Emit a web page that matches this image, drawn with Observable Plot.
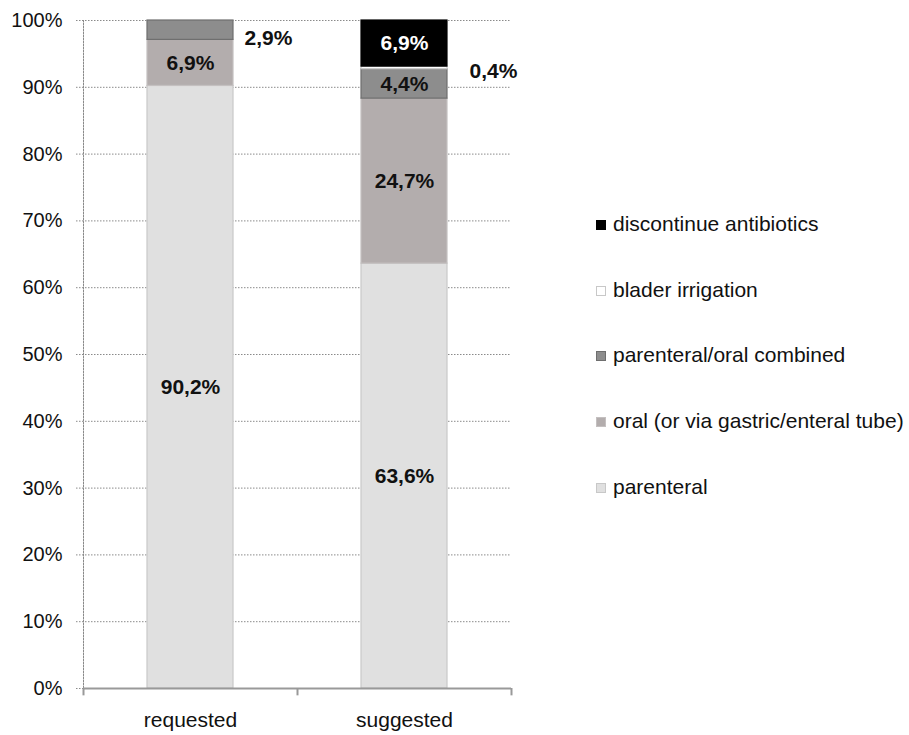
<!DOCTYPE html>
<html>
<head>
<meta charset="utf-8">
<script src="https://cdn.jsdelivr.net/npm/d3@7"></script>
<script src="https://cdn.jsdelivr.net/npm/@observablehq/plot@0.6"></script>
<style>
  body { margin: 0; background: #fff; }
  #wrap { position: relative; width: 909px; height: 735px; font-family: "Liberation Sans", Arial, sans-serif; }
  #legend { position: absolute; left: 596px; top: 0; }
  .item { position: absolute; left: 0; white-space: nowrap; font-size: 21px; color: #111; line-height: 24px; }
  .sw { display: inline-block; width: 10px; height: 10px; margin-right: 7px; vertical-align: 1px; box-sizing: border-box; }
</style>
</head>
<body>
<div id="wrap"><div id="legend"></div></div>
<script>
const categories = ["requested", "suggested"];
const series = ["parenteral", "oral (or via gastric/enteral tube)", "parenteral/oral combined", "blader irrigation", "discontinue antibiotics"];
const requestedValues = [90.2, 6.9, 2.9, 0, 0];
const suggestedValues = [63.6, 24.7, 4.4, 0.4, 6.9];
const yTicks = [0, 10, 20, 30, 40, 50, 60, 70, 80, 90, 100];

const fills = {
  "parenteral": "#e0e0e0",
  "oral (or via gastric/enteral tube)": "#b3adad",
  "parenteral/oral combined": "#8d8d8d",
  "blader irrigation": "#ffffff",
  "discontinue antibiotics": "#000000"
};
const strokes = {
  "parenteral": "#c8c8c8",
  "oral (or via gastric/enteral tube)": "#c4c0c0",
  "parenteral/oral combined": "#6e6e6e",
  "blader irrigation": "#c8c8c8",
  "discontinue antibiotics": "#000000"
};

const table = [];
categories.forEach((c, ci) => {
  const vals = ci === 0 ? requestedValues : suggestedValues;
  series.forEach((s, si) => { if (vals[si] > 0) table.push({category: c, series: s, value: vals[si]}); });
});

const fmt = v => v.toFixed(1).replace(".", ",") + "%";
const isOut1 = d => d.category === "requested" && d.series === "parenteral/oral combined";
const isOut2 = d => d.category === "suggested" && d.series === "blader irrigation";

const stackOpts = {x: "category", y: "value", z: "series", order: null};
const font = '"Liberation Sans", Arial, sans-serif';

const chart = Plot.plot({
  width: 909,
  height: 735,
  marginLeft: 83,
  marginRight: 398,
  marginTop: 20,
  marginBottom: 47,
  style: {fontFamily: font, color: "#111", background: "#fff"},
  x: {domain: categories, paddingInner: 0.6, paddingOuter: 0.3, label: null},
  y: {domain: [0, 100], label: null},
  color: {type: "identity"},
  marks: [
    Plot.ruleY(yTicks.filter(t => t > 0), {y: d => d, stroke: "#8a8a8a", strokeDasharray: "1.5,1.5", insetLeft: -7}),
    Plot.ruleY([0], {y: d => d, stroke: "#8a8a8a", strokeDasharray: "1.5,1.5", insetLeft: -7}),
    Plot.frame({anchor: "left", stroke: "#8a8a8a", strokeDasharray: "1.5,1.5"}),
    Plot.barY(table, Plot.stackY({...stackOpts, fill: d => fills[d.series], stroke: d => strokes[d.series], strokeWidth: 1.2})),
    Plot.ruleY([0], {y: d => d, stroke: "#999", strokeWidth: 2}),
    Plot.ruleX(categories, {x: d => d, dx: -107, y1: 0, y2: -1.1, stroke: "#999", strokeWidth: 2}),
    Plot.ruleX([categories[1]], {x: d => d, dx: 107, y1: 0, y2: -1.1, stroke: "#999", strokeWidth: 2}),
    Plot.axisY({ticks: yTicks, tickFormat: d => d + "%", tickSize: 0, tickPadding: 21, fontSize: 20, fill: "#111"}),
    Plot.axisX({tickSize: 0, tickPadding: 24, fontSize: 21, fill: "#111"}),
    Plot.text(table, Plot.stackY({...stackOpts,
      text: d => (isOut1(d) || isOut2(d)) ? "" : fmt(d.value),
      fill: d => d.series === "discontinue antibiotics" ? "#ffffff" : "#111111",
      fontSize: 21, fontWeight: "bold", fontFamily: font})),
    Plot.text(table, Plot.stackY({...stackOpts,
      text: d => isOut1(d) ? fmt(d.value) : "",
      fill: "#111", dx: 78, dy: 8, fontSize: 21, fontWeight: "bold", fontFamily: font})),
    Plot.text(table, Plot.stackY({...stackOpts,
      text: d => isOut2(d) ? fmt(d.value) : "",
      fill: "#111", dx: 89, dy: 3, fontSize: 21, fontWeight: "bold", fontFamily: font}))
  ]
});
document.getElementById("wrap").prepend(chart);

const legend = document.getElementById("legend");
const legendOrder = series.slice().reverse();
const legendTops = [212, 278, 343, 409, 475];
legendOrder.forEach((s, i) => {
  const it = document.createElement("div");
  it.className = "item";
  it.style.top = legendTops[i] + "px";
  const sw = document.createElement("span");
  sw.className = "sw";
  sw.style.background = fills[s];
  sw.style.border = "1px solid " + strokes[s];
  it.appendChild(sw);
  it.appendChild(document.createTextNode(s));
  legend.appendChild(it);
});
</script>
</body>
</html>
